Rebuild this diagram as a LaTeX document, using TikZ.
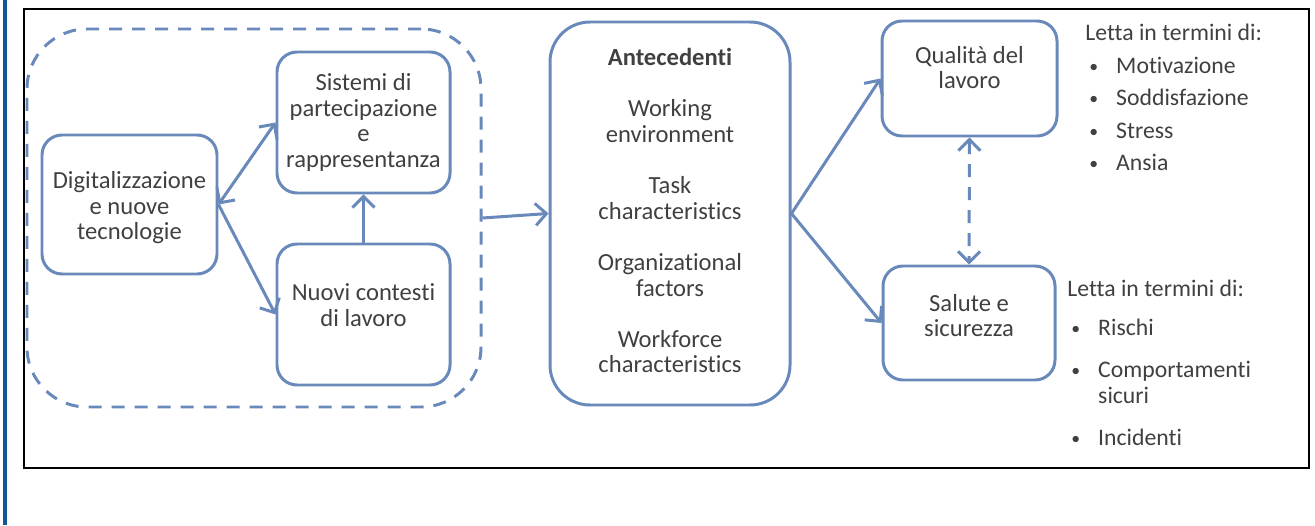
\documentclass[tikz,border=0pt]{standalone}
\usepackage{fontspec}
\setmainfont{Carlito}[RawFeature={-liga}]
\usetikzlibrary{arrows.meta}

\definecolor{bordo}{RGB}{104,137,186}
\definecolor{barra}{RGB}{18,88,152}
\definecolor{testo}{RGB}{64,64,64}

% bullet lines of the right-hand lists
\newcommand{\punto}{\raisebox{0.05em}{\scalebox{0.75}{\textbullet}}}
\newcommand{\voce}[1]{\hspace*{0.08cm}\punto\hspace{0.36cm}#1}
\newcommand{\rientro}[1]{\hspace*{0.08cm}\phantom{\punto}\hspace{0.36cm}#1}

\begin{document}
\begin{tikzpicture}[
    box/.style={draw=bordo,line width=1.7pt,rounded corners=0.4cm,align=center,
      text=testo,font=\fontsize{14}{14.5}\selectfont},
    scritta/.style={align=center,text=testo,font=\fontsize{14}{14.5}\selectfont},
    punta/.tip={Straight Barb[length=2.2mm,width=4.4mm]},
    freccia/.style={bordo,line width=1.7pt,-{punta}},
    doppia/.style={bordo,line width=1.7pt,{punta}-{punta}},
    lista/.style={anchor=north west,inner sep=0pt,align=left,text=testo,
      font=\fontsize{13.5}{14.8}\selectfont},
  ]
  \useasboundingbox (0,0) rectangle (26.3,10.5);
  % bar and frame
  \draw [barra,line width=2.3pt] (0.1,0) -- (0.1,10.5);
  \draw [line width=1.1pt] (0.48,1.14) rectangle (26.18,10.32);
  % boxes
  \node [box,dash pattern=on 0.26cm off 0.2cm,rounded corners=1.2cm,
    minimum width=9.08cm,minimum height=7.56cm] (gruppo) at (5.08,6.14) {};
  \node [box,minimum width=3.5cm,minimum height=2.78cm] (digit) at (2.59,6.41) {};
  \node [scritta] (digit-t) at ([yshift=-0.07cm]digit) {Digitalizzazione\\e nuove\\tecnologie};
  \node [box,minimum width=3.46cm,minimum height=2.82cm] (sistemi) at (7.27,8.05)
    {Sistemi di\\partecipazione\\e\\rappresentanza};
  \node [box,minimum width=3.46cm,minimum height=2.82cm] (nuovi) at (7.27,4.21) {};
  \node [scritta] (nuovi-t) at ([yshift=0.19cm]nuovi) {Nuovi contesti\\di lavoro};
  \node [box,rounded corners=0.8cm,minimum width=4.8cm,minimum height=7.66cm] (antec) at (13.4,6.23) {};
  \node [scritta] (antec-t) at ([yshift=0.06cm]antec)
    {\textbf{Antecedenti}\\[0.52cm]
     Working\\environment\\[0.52cm]
     Task\\characteristics\\[0.52cm]
     Organizational\\factors\\[0.52cm]
     Workforce\\characteristics};
  \node [box,minimum width=3.5cm,minimum height=2.3cm] (qualita) at (19.39,8.93) {};
  \node [scritta] (qualita-t) at ([yshift=0.22cm]qualita) {Qualità del\\lavoro};
  \node [box,minimum width=3.44cm,minimum height=2.28cm] (salute) at (19.38,4.04) {};
  \node [scritta] (salute-t) at ([yshift=0.15cm]salute) {Salute e\\sicurezza};
  % arrows
  \draw [doppia] (digit.east) -- (sistemi.west);
  \draw [freccia] (digit.east) -- (nuovi.west);
  \draw [freccia] (nuovi.north) -- (sistemi.south);
  \draw [freccia] (gruppo.east) -- (antec.west);
  \draw [freccia] (antec.east) -- (qualita.west);
  \draw [freccia] (antec.east) -- (salute.west);
  \draw [doppia,dash pattern=on 0.26cm off 0.2cm] (qualita.south) -- (salute.north);
  % text
  \node [lista] (lista1) at (21.7,10.02)
    {Letta in termini di:\\[0.13cm]
     \voce{Motivazione}\\[0.13cm]
     \voce{Soddisfazione}\\[0.13cm]
     \voce{Stress}\\[0.13cm]
     \voce{Ansia}};
  \node [lista] (lista2) at (21.34,4.9)
    {Letta in termini di:\\[0.26cm]
     \voce{Rischi}\\[0.32cm]
     \voce{Comportamenti}\\
     \rientro{sicuri}\\[0.32cm]
     \voce{Incidenti}};
\end{tikzpicture}
\end{document}
